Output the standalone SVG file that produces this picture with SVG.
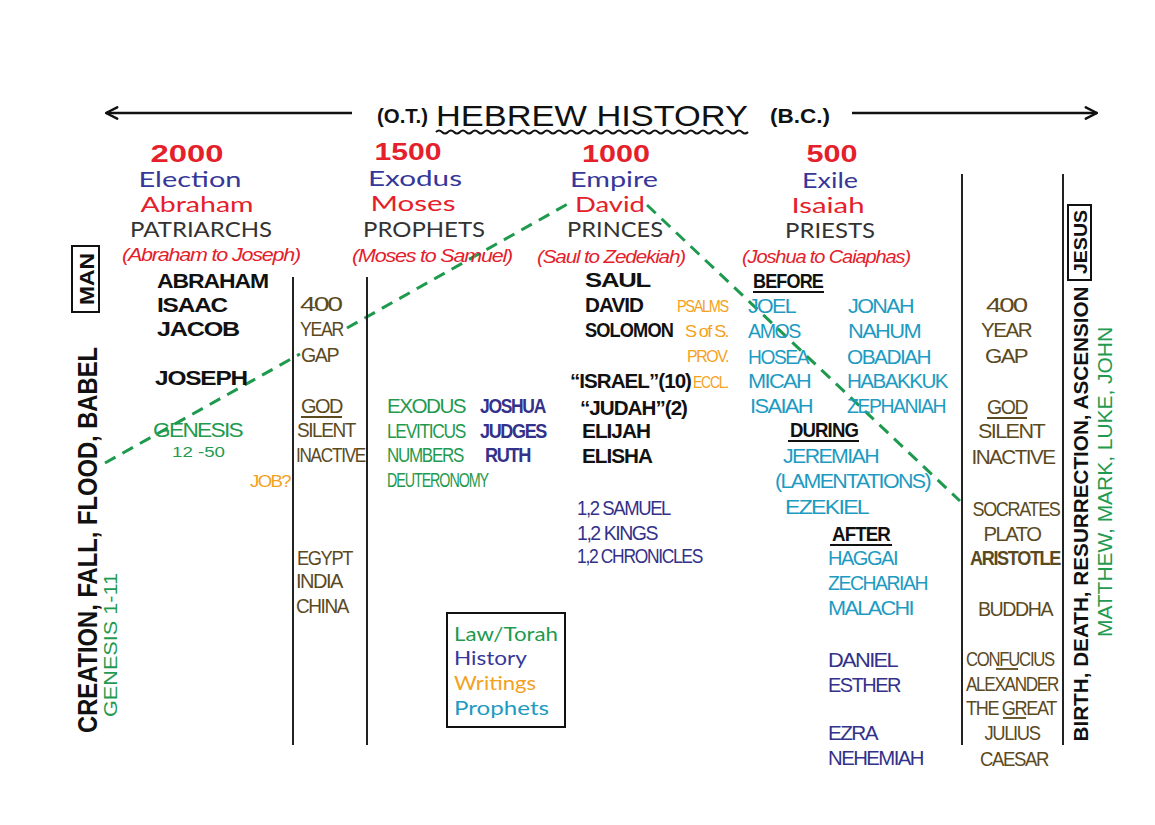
<svg xmlns="http://www.w3.org/2000/svg" width="1155" height="825" viewBox="0 0 1155 825">
<defs>
<marker id="chev" viewBox="0 0 20 20" refX="18" refY="10" markerWidth="14" markerHeight="14" markerUnits="userSpaceOnUse" orient="auto-start-reverse">
<path d="M2,2 L18,10 L2,18" fill="none" stroke="#111" stroke-width="3.5" stroke-linecap="round" stroke-linejoin="round"/>
</marker>
<style>
text{font-family:"Liberation Sans",Arial,sans-serif}
.hd{font-family:Lato,"Noto Sans",sans-serif;font-size:21px;text-anchor:middle}
.yr{font-family:"Liberation Sans",sans-serif;font-weight:bold;font-size:24px;fill:#e4212b;text-anchor:middle}
.ep{fill:#36379a}
.nm{fill:#e4212b}
.gr{fill:#333}
.it{font-style:italic;font-size:18px;fill:#e4212b;text-anchor:middle;letter-spacing:-1px}
.bk{font-weight:bold;font-size:21px;fill:#111;letter-spacing:-1px}
.ls{font-size:20px;letter-spacing:-1.5px}
.sm{font-size:17px;letter-spacing:-1.5px}
.br{fill:#5c4a1f}
.gn{fill:#1f9a4f}
.or{fill:#f4a11e}
.nv{fill:#33318a}
.tl{fill:#1d9bc2}
.c{text-anchor:middle}
.e{text-anchor:end}
.lg{font-family:Lato,"Noto Sans",sans-serif;font-size:20px}
.vl{stroke:#222;stroke-width:2;fill:none}
.ul{stroke-width:1.8;fill:none}
</style>
</defs>
<rect width="1155" height="825" fill="#ffffff"/>

<g id="connectors">
<line x1="352" y1="113" x2="106" y2="113" stroke="#111" stroke-width="2.5" marker-end="url(#chev)"/>
<line x1="852" y1="113" x2="1097" y2="113" stroke="#111" stroke-width="2.5" marker-end="url(#chev)"/>
<path d="M105,463 L300,354 M347,328 L573,201 M647,205 L960,501" fill="none" stroke="#1e9a4e" stroke-width="3" stroke-dasharray="12,8"/>
</g>

<g id="title">
<text x="377" y="123" font-weight="bold" font-size="20" fill="#111" textLength="51" lengthAdjust="spacingAndGlyphs">(O.T.)</text>
<text x="436" y="126" font-size="30" fill="#111" textLength="312" lengthAdjust="spacingAndGlyphs">HEBREW  HISTORY</text>
<path d="M436,132 q3,-3 6,0 t6,0 t6,0 t6,0 t6,0 t6,0 t6,0 t6,0 t6,0 t6,0 t6,0 t6,0 t6,0 t6,0 t6,0 t6,0 t6,0 t6,0 t6,0 t6,0 t6,0 t6,0 t6,0 t6,0 t6,0 t6,0 t6,0 t6,0 t6,0 t6,0 t6,0 t6,0 t6,0 t6,0 t6,0 t6,0 t6,0 t6,0 t6,0 t6,0 t6,0 t6,0 t6,0 t6,0 t6,0 t6,0 t6,0 t6,0 t6,0 t6,0 t6,0 t6,0" fill="none" stroke="#111" stroke-width="2"/>
<text x="770" y="123" font-weight="bold" font-size="20" fill="#111" textLength="60" lengthAdjust="spacingAndGlyphs">(B.C.)</text>
</g>

<g id="col-2000">
<text class="yr" x="187" y="162" textLength="73" lengthAdjust="spacingAndGlyphs">2000</text>
<text class="hd ep" x="190" y="187" textLength="103" lengthAdjust="spacingAndGlyphs">Election</text>
<text class="hd nm" x="197" y="212" textLength="113" lengthAdjust="spacingAndGlyphs">Abraham</text>
<text class="hd gr" x="201" y="237" textLength="142" lengthAdjust="spacingAndGlyphs">PATRIARCHS</text>
<text class="it" x="211" y="261" textLength="178" lengthAdjust="spacingAndGlyphs">(Abraham to Joseph)</text>
<text class="bk" x="157" y="288" textLength="111" lengthAdjust="spacingAndGlyphs">ABRAHAM</text>
<text class="bk" x="157" y="312" textLength="70" lengthAdjust="spacingAndGlyphs">ISAAC</text>
<text class="bk" x="157" y="336" textLength="82" lengthAdjust="spacingAndGlyphs">JACOB</text>
<text class="bk" x="155" y="385" textLength="92" lengthAdjust="spacingAndGlyphs">JOSEPH</text>
<text class="ls gn" x="153" y="437" textLength="89" lengthAdjust="spacingAndGlyphs">GENESIS</text>
<text class="gn" x="172" y="457" font-size="15" textLength="53" lengthAdjust="spacingAndGlyphs">12 -50</text>
<text class="sm or" x="250" y="487" textLength="40" lengthAdjust="spacingAndGlyphs">JOB?</text>
</g>

<g id="man">
<rect x="72" y="246" width="27" height="66" fill="none" stroke="#111" stroke-width="2"/>
<text transform="translate(94,279) rotate(-90)" class="c" font-weight="bold" font-size="20" fill="#111" textLength="52" lengthAdjust="spacingAndGlyphs">MAN</text>
</g>

<g id="creation">
<text transform="translate(97,540) rotate(-90)" class="c" font-weight="bold" font-size="28" fill="#111" textLength="386" lengthAdjust="spacingAndGlyphs">CREATION, FALL, FLOOD, BABEL</text>
<text transform="translate(117,645) rotate(-90)" class="c gn" font-size="19" textLength="144" lengthAdjust="spacingAndGlyphs">GENESIS 1-11</text>
</g>

<g id="gap-1">
<line class="vl" x1="293" y1="277" x2="293" y2="745"/>
<line class="vl" x1="367" y1="277" x2="367" y2="745"/>
<g class="br">
<text class="ls" x="300" y="311" textLength="41" lengthAdjust="spacingAndGlyphs">400</text>
<text class="ls" x="300" y="336" textLength="43" lengthAdjust="spacingAndGlyphs">YEAR</text>
<text class="ls" x="301" y="362" textLength="37" lengthAdjust="spacingAndGlyphs">GAP</text>
<text class="ls" x="301" y="413" textLength="41" lengthAdjust="spacingAndGlyphs">GOD</text>
<text class="ls" x="297" y="437" textLength="58" lengthAdjust="spacingAndGlyphs">SILENT</text>
<text class="ls" x="296" y="462" textLength="69" lengthAdjust="spacingAndGlyphs">INACTIVE</text>
<text class="ls" x="297" y="565" textLength="55" lengthAdjust="spacingAndGlyphs">EGYPT</text>
<text class="ls" x="296" y="588" textLength="46" lengthAdjust="spacingAndGlyphs">INDIA</text>
<text class="ls" x="296" y="613" textLength="52" lengthAdjust="spacingAndGlyphs">CHINA</text>
</g>
<line class="ul" x1="301" y1="417" x2="342" y2="417" stroke="#5c4a1f"/>
</g>

<g id="col-1500">
<text class="yr" x="408" y="160" textLength="67" lengthAdjust="spacingAndGlyphs">1500</text>
<text class="hd ep" x="415" y="186" textLength="94" lengthAdjust="spacingAndGlyphs">Exodus</text>
<text class="hd nm" x="413" y="211" textLength="85" lengthAdjust="spacingAndGlyphs">Moses</text>
<text class="hd gr" x="424" y="237" textLength="122" lengthAdjust="spacingAndGlyphs">PROPHETS</text>
<text class="it" x="432" y="262" textLength="160" lengthAdjust="spacingAndGlyphs">(Moses to Samuel)</text>
<text class="ls gn" x="387" y="413" textLength="78" lengthAdjust="spacingAndGlyphs">EXODUS</text>
<text class="ls gn" x="387" y="438" textLength="78" lengthAdjust="spacingAndGlyphs">LEVITICUS</text>
<text class="ls gn" x="387" y="462" textLength="76" lengthAdjust="spacingAndGlyphs">NUMBERS</text>
<text class="ls gn" x="387" y="487" textLength="101" lengthAdjust="spacingAndGlyphs">DEUTERONOMY</text>
<text class="ls nv" x="480" y="413" font-weight="bold" textLength="65" lengthAdjust="spacingAndGlyphs">JOSHUA</text>
<text class="ls nv" x="480" y="438" font-weight="bold" textLength="66" lengthAdjust="spacingAndGlyphs">JUDGES</text>
<text class="ls nv" x="485" y="462" font-weight="bold" textLength="45" lengthAdjust="spacingAndGlyphs">RUTH</text>
</g>

<g id="legend">
<rect x="447" y="613" width="118" height="114" fill="none" stroke="#111" stroke-width="2"/>
<text class="lg gn" x="454" y="641" textLength="104" lengthAdjust="spacingAndGlyphs">Law/Torah</text>
<text class="lg ep" x="454" y="665" textLength="73" lengthAdjust="spacingAndGlyphs">History</text>
<text class="lg or" x="454" y="690" textLength="82" lengthAdjust="spacingAndGlyphs">Writings</text>
<text class="lg tl" x="454" y="715" textLength="95" lengthAdjust="spacingAndGlyphs">Prophets</text>
</g>

<g id="col-1000">
<text class="yr" x="616" y="162" textLength="68" lengthAdjust="spacingAndGlyphs">1000</text>
<text class="hd ep" x="614" y="187" textLength="88" lengthAdjust="spacingAndGlyphs">Empire</text>
<text class="hd nm" x="610" y="212" textLength="70" lengthAdjust="spacingAndGlyphs">David</text>
<text class="hd gr" x="615" y="237" textLength="96" lengthAdjust="spacingAndGlyphs">PRINCES</text>
<text class="it" x="611" y="263" font-size="17" textLength="148" lengthAdjust="spacingAndGlyphs">(Saul to Zedekiah)</text>
<text class="bk" x="585" y="287" textLength="65" lengthAdjust="spacingAndGlyphs">SAUL</text>
<text class="bk" x="585" y="312" textLength="58" lengthAdjust="spacingAndGlyphs">DAVID</text>
<text class="bk" x="585" y="337" font-size="20" letter-spacing="-1.5" textLength="88" lengthAdjust="spacingAndGlyphs">SOLOMON</text>
<text class="bk" x="570" y="388" font-size="20" letter-spacing="-1.5" textLength="121" lengthAdjust="spacingAndGlyphs">“ISRAEL”(10)</text>
<text class="bk" x="580" y="415" textLength="107" lengthAdjust="spacingAndGlyphs">“JUDAH”(2)</text>
<text class="bk" x="582" y="438" textLength="68" lengthAdjust="spacingAndGlyphs">ELIJAH</text>
<text class="bk" x="582" y="463" textLength="70" lengthAdjust="spacingAndGlyphs">ELISHA</text>
<text class="sm or" x="677" y="312" textLength="51" lengthAdjust="spacingAndGlyphs">PSALMS</text>
<text class="sm or e" x="728" y="337" textLength="43" lengthAdjust="spacingAndGlyphs">S of S.</text>
<text class="sm or e" x="728" y="362" textLength="41" lengthAdjust="spacingAndGlyphs">PROV.</text>
<text class="sm or e" x="728" y="388" textLength="35" lengthAdjust="spacingAndGlyphs">ECCL.</text>
<text class="ls nv" x="577" y="515" textLength="93" lengthAdjust="spacingAndGlyphs">1,2 SAMUEL</text>
<text class="ls nv" x="577" y="540" textLength="80" lengthAdjust="spacingAndGlyphs">1,2 KINGS</text>
<text class="ls nv" x="577" y="563" textLength="125" lengthAdjust="spacingAndGlyphs">1,2 CHRONICLES</text>
</g>

<g id="col-500">
<text class="yr" x="832" y="162" textLength="51" lengthAdjust="spacingAndGlyphs">500</text>
<text class="hd ep" x="830" y="188" textLength="56" lengthAdjust="spacingAndGlyphs">Exile</text>
<text class="hd nm" x="828" y="213" textLength="73" lengthAdjust="spacingAndGlyphs">Isaiah</text>
<text class="hd gr" x="830" y="238" textLength="90" lengthAdjust="spacingAndGlyphs">PRIESTS</text>
<text class="it" x="826" y="263" textLength="168" lengthAdjust="spacingAndGlyphs">(Joshua to Caiaphas)</text>
<text class="bk" x="753" y="288" font-size="18" textLength="70" lengthAdjust="spacingAndGlyphs">BEFORE</text>
<line class="ul" x1="753" y1="292" x2="824" y2="292" stroke="#111"/>
<g class="tl">
<text class="ls" x="748" y="313" textLength="47" lengthAdjust="spacingAndGlyphs">JOEL</text>
<text class="ls" x="748" y="338" textLength="52" lengthAdjust="spacingAndGlyphs">AMOS</text>
<text class="ls" x="748" y="364" textLength="60" lengthAdjust="spacingAndGlyphs">HOSEA</text>
<text class="ls" x="748" y="388" textLength="62" lengthAdjust="spacingAndGlyphs">MICAH</text>
<text class="ls" x="750" y="413" textLength="62" lengthAdjust="spacingAndGlyphs">ISAIAH</text>
<text class="ls" x="848" y="313" textLength="65" lengthAdjust="spacingAndGlyphs">JONAH</text>
<text class="ls" x="848" y="338" textLength="72" lengthAdjust="spacingAndGlyphs">NAHUM</text>
<text class="ls" x="847" y="364" textLength="83" lengthAdjust="spacingAndGlyphs">OBADIAH</text>
<text class="ls" x="847" y="388" textLength="100" lengthAdjust="spacingAndGlyphs">HABAKKUK</text>
<text class="ls" x="847" y="413" textLength="98" lengthAdjust="spacingAndGlyphs">ZEPHANIAH</text>
<text class="ls" x="783" y="463" textLength="95" lengthAdjust="spacingAndGlyphs">JEREMIAH</text>
<text class="ls" x="775" y="488" textLength="155" lengthAdjust="spacingAndGlyphs">(LAMENTATIONS)</text>
<text class="ls" x="785" y="514" textLength="83" lengthAdjust="spacingAndGlyphs">EZEKIEL</text>
<text class="ls" x="828" y="565" textLength="69" lengthAdjust="spacingAndGlyphs">HAGGAI</text>
<text class="ls" x="828" y="590" textLength="99" lengthAdjust="spacingAndGlyphs">ZECHARIAH</text>
<text class="ls" x="828" y="615" textLength="85" lengthAdjust="spacingAndGlyphs">MALACHI</text>
</g>
<text class="bk" x="790" y="437" font-size="18" textLength="68" lengthAdjust="spacingAndGlyphs">DURING</text>
<line class="ul" x1="788" y1="441" x2="859" y2="441" stroke="#111"/>
<text class="bk" x="832" y="541" font-size="18" textLength="58" lengthAdjust="spacingAndGlyphs">AFTER</text>
<line class="ul" x1="830" y1="545" x2="892" y2="545" stroke="#111"/>
<text class="ls nv" x="828" y="667" textLength="69" lengthAdjust="spacingAndGlyphs">DANIEL</text>
<text class="ls nv" x="828" y="692" textLength="72" lengthAdjust="spacingAndGlyphs">ESTHER</text>
<text class="ls nv" x="828" y="740" textLength="49" lengthAdjust="spacingAndGlyphs">EZRA</text>
<text class="ls nv" x="828" y="765" textLength="95" lengthAdjust="spacingAndGlyphs">NEHEMIAH</text>
</g>

<g id="gap-2">
<line class="vl" x1="962" y1="174" x2="962" y2="745"/>
<line class="vl" x1="1063" y1="174" x2="1063" y2="745"/>
<g class="br c">
<text class="ls" x="1006" y="312" textLength="40" lengthAdjust="spacingAndGlyphs">400</text>
<text class="ls" x="1006" y="337" textLength="50" lengthAdjust="spacingAndGlyphs">YEAR</text>
<text class="ls" x="1006" y="363" textLength="42" lengthAdjust="spacingAndGlyphs">GAP</text>
<text class="ls" x="1007" y="414" textLength="40" lengthAdjust="spacingAndGlyphs">GOD</text>
<text class="ls" x="1011" y="438" textLength="66" lengthAdjust="spacingAndGlyphs">SILENT</text>
<text class="ls" x="1013" y="464" textLength="83" lengthAdjust="spacingAndGlyphs">INACTIVE</text>
<text class="ls" x="1016" y="516" textLength="87" lengthAdjust="spacingAndGlyphs">SOCRATES</text>
<text class="ls" x="1012" y="541" textLength="57" lengthAdjust="spacingAndGlyphs">PLATO</text>
<text class="ls" x="1015" y="565" font-weight="bold" textLength="90" lengthAdjust="spacingAndGlyphs">ARISTOTLE</text>
<text class="ls" x="1015" y="616" textLength="74" lengthAdjust="spacingAndGlyphs">BUDDHA</text>
<text class="ls" x="1010" y="666" textLength="88" lengthAdjust="spacingAndGlyphs">CONFUCIUS</text>
<text class="ls" x="1012" y="691" textLength="92" lengthAdjust="spacingAndGlyphs">ALEXANDER</text>
<text class="ls" x="1011" y="715" textLength="90" lengthAdjust="spacingAndGlyphs">THE GREAT</text>
<text class="ls" x="1012" y="740" textLength="55" lengthAdjust="spacingAndGlyphs">JULIUS</text>
<text class="ls" x="1014" y="766" textLength="68" lengthAdjust="spacingAndGlyphs">CAESAR</text>
</g>
<g stroke="#5c4a1f" class="ul">
<line x1="987" y1="418" x2="1027" y2="418"/>
<line x1="996" y1="669" x2="1018" y2="669"/>
<line x1="1003" y1="718" x2="1026" y2="718"/>
</g>
</g>

<g id="jesus">
<rect x="1068" y="205" width="23" height="75" fill="none" stroke="#111" stroke-width="2"/>
<text transform="translate(1087,242) rotate(-90)" class="c" font-weight="bold" font-size="19" fill="#111" textLength="64" lengthAdjust="spacingAndGlyphs">JESUS</text>
<text transform="translate(1088,514) rotate(-90)" class="c" font-weight="bold" font-size="21" fill="#111" textLength="455" lengthAdjust="spacingAndGlyphs">BIRTH, DEATH, RESURRECTION, ASCENSION</text>
<text transform="translate(1112,482) rotate(-90)" class="c gn" font-size="20" textLength="310" lengthAdjust="spacingAndGlyphs">MATTHEW, MARK, LUKE, JOHN</text>
</g>
</svg>
